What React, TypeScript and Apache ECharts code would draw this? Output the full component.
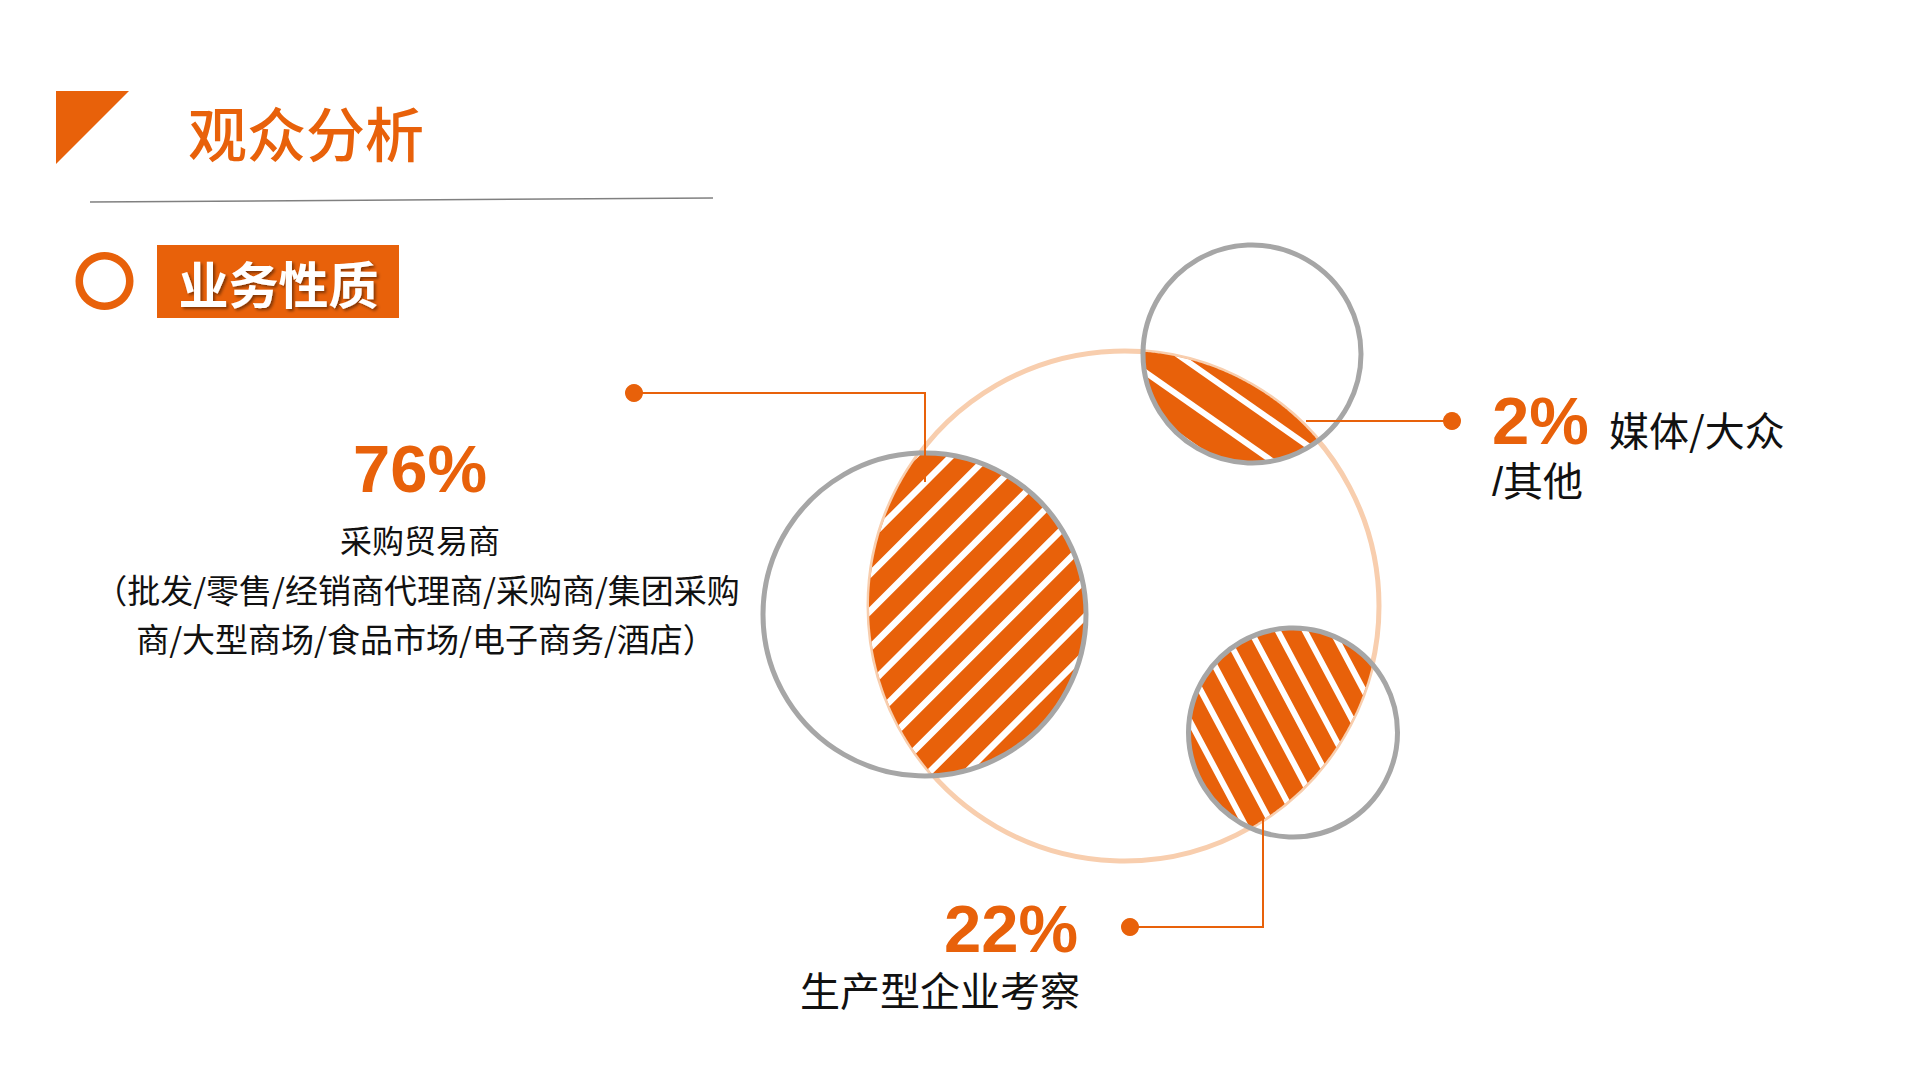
import React, { useEffect, useRef } from 'react';
import * as echarts from 'echarts';

// ---------------- data ----------------
const categories: string[] = ['采购贸易商', '生产型企业考察', '媒体/大众/其他'];
const values: number[] = [76, 22, 2];
const detailLines: string[] = ['（批发/零售/经销商代理商/采购商/集团采购', '商/大型商场/食品市场/电子商务/酒店）'];
const pageTitle = '观众分析';
const sectionTitle = '业务性质';

// ---------------- styles / layout ----------------
const ORANGE = '#E8610A';
const PEACH = '#F8CEAE';
const GRAY = '#A6A6A6';
const TEXT = '#111111';
const FONT_CJK = '"Noto Sans CJK SC", "Microsoft YaHei", sans-serif';
const FONT_CJK_TIGHT = '"Liberation Sans", "Noto Sans CJK SC", sans-serif';
const FONT_NUM = '"Liberation Sans", "Open Sans", sans-serif';

const BIG = { x: 1124, y: 606, r: 255 };

type Bubble = {
  x: number; y: number; r: number;
  angle: number; period: number; white: number; phase: number;
  leader: number[][]; dot: number[];
};

const bubbles: Bubble[] = [
  { x: 924.5, y: 614.5, r: 161.5, angle: -45, period: 26, white: 6.5, phase: 4,
    leader: [[634, 393], [925, 393], [925, 482]], dot: [634, 393] },
  { x: 1293, y: 732.5, r: 104.5, angle: 62, period: 24, white: 6, phase: 5,
    leader: [[1130, 927], [1263, 927], [1263, 818]], dot: [1130, 927] },
  { x: 1252, y: 354, r: 109, angle: 35, period: 33, white: 6, phase: 8,
    leader: [[1452, 421], [1306, 421]], dot: [1452, 421] },
];

// ---------------- geometry helpers ----------------
type Circle = { x: number; y: number; r: number };

function lensPolygon(c1: Circle, c2: Circle, steps = 140): number[][] {
  const dx = c2.x - c1.x, dy = c2.y - c1.y;
  const d = Math.hypot(dx, dy);
  const a = (c1.r * c1.r - c2.r * c2.r + d * d) / (2 * d);
  const phi = Math.atan2(dy, dx);
  const al1 = Math.acos(Math.max(-1, Math.min(1, a / c1.r)));
  const al2 = Math.acos(Math.max(-1, Math.min(1, (d - a) / c2.r)));
  const pts: number[][] = [];
  for (let i = 0; i <= steps; i++) {
    const t = phi - al1 + (2 * al1 * i) / steps;
    pts.push([c1.x + c1.r * Math.cos(t), c1.y + c1.r * Math.sin(t)]);
  }
  for (let i = 1; i < steps; i++) {
    const t = phi + Math.PI - al2 + (2 * al2 * i) / steps;
    pts.push([c2.x + c2.r * Math.cos(t), c2.y + c2.r * Math.sin(t)]);
  }
  return pts;
}

function clipHalf(poly: number[][], nx: number, ny: number, c: number, sign: number): number[][] {
  const out: number[][] = [];
  const n = poly.length;
  for (let i = 0; i < n; i++) {
    const a = poly[i], b = poly[(i + 1) % n];
    const da = (a[0] * nx + a[1] * ny - c) * sign;
    const db = (b[0] * nx + b[1] * ny - c) * sign;
    if (da >= 0) out.push(a);
    if ((da >= 0) !== (db >= 0)) {
      const t = da / (da - db);
      out.push([a[0] + t * (b[0] - a[0]), a[1] + t * (b[1] - a[1])]);
    }
  }
  return out;
}

function whiteBands(poly: number[][], b: Bubble): number[][][] {
  const th = (b.angle * Math.PI) / 180;
  const nx = -Math.sin(th), ny = Math.cos(th);
  let pmin = Infinity, pmax = -Infinity;
  for (const p of poly) {
    const v = p[0] * nx + p[1] * ny;
    pmin = Math.min(pmin, v); pmax = Math.max(pmax, v);
  }
  const bands: number[][][] = [];
  let s = Math.floor(pmin / b.period) * b.period + b.phase - b.period;
  for (; s < pmax; s += b.period) {
    let q = clipHalf(poly, nx, ny, s, 1);
    if (q.length < 3) continue;
    q = clipHalf(q, nx, ny, s + b.white, -1);
    if (q.length >= 3) bands.push(q);
  }
  return bands;
}

function txt(x: number, y: number, text: string, size: number, fill: string, family: string,
  weight: string | number, align: string) {
  return {
    type: 'text', x, y, silent: true,
    style: { text, fill, fontSize: size, fontFamily: family, fontWeight: weight, align, verticalAlign: 'middle' },
  };
}

function labelsFor(i: number, v: number): any[] {
  const pct = `${v}%`;
  if (i === 0) {
    return [
      txt(420, 468, pct, 67, ORANGE, FONT_NUM, 'bold', 'center'),
      txt(420, 539, categories[0], 32, TEXT, FONT_CJK, 'normal', 'center'),
      txt(417, 589, detailLines[0], 33, TEXT, FONT_CJK, 'normal', 'center'),
      txt(426, 638, detailLines[1], 33, TEXT, FONT_CJK, 'normal', 'center'),
    ];
  }
  if (i === 1) {
    return [
      txt(1078, 928, pct, 67, ORANGE, FONT_NUM, 'bold', 'right'),
      txt(1080, 992, categories[1], 40, TEXT, FONT_CJK_TIGHT, 'normal', 'right'),
    ];
  }
  const name = categories[2];
  const cut = name.lastIndexOf('/');
  return [
    txt(1492, 420, pct, 67, ORANGE, FONT_NUM, 'bold', 'left'),
    txt(1609, 429, name.slice(0, cut), 40, TEXT, FONT_CJK, 'normal', 'left'),
    txt(1492, 482, name.slice(cut), 40, TEXT, FONT_CJK_TIGHT, 'normal', 'left'),
  ];
}

export default function App() {
  const ref = useRef<HTMLDivElement>(null);

  useEffect(() => {
    if (!ref.current) return;
    const chart = echarts.init(ref.current, undefined, { renderer: 'svg' });

    const option: any = {
      animation: false,
      backgroundColor: '#ffffff',
      graphic: {
        elements: [
          { type: 'polygon', silent: true, shape: { points: [[56, 91], [129, 91], [56, 164]] }, style: { fill: ORANGE } },
          {
            type: 'text', x: 306, y: 131, silent: true,
            style: { text: pageTitle, fill: ORANGE, fontSize: 59, fontFamily: FONT_CJK, fontWeight: 500, align: 'center', verticalAlign: 'middle' },
          },
          { type: 'line', silent: true, shape: { x1: 90, y1: 202, x2: 713, y2: 198 }, style: { stroke: '#808080', lineWidth: 1.5 } },
          { type: 'ring', silent: true, shape: { cx: 104.5, cy: 281, r: 29, r0: 21.5 }, style: { fill: ORANGE } },
          { type: 'rect', silent: true, shape: { x: 157, y: 245, width: 242, height: 73 }, style: { fill: ORANGE } },
          {
            type: 'text', x: 278.5, y: 282, silent: true,
            style: {
              text: sectionTitle, fill: '#ffffff', fontSize: 50, fontFamily: FONT_CJK, fontWeight: 'bold',
              align: 'center', verticalAlign: 'middle',
              textShadowColor: 'rgba(0,0,0,0.45)', textShadowBlur: 3, textShadowOffsetX: 2, textShadowOffsetY: 2,
            },
          },
        ],
      },
      series: [
        {
          type: 'custom',
          coordinateSystem: 'none',
          silent: true,
          z: 2,
          data: values.map((v, i) => ({ name: categories[i], value: v })),
          renderItem: (params: any, api: any) => {
            const i = params.dataIndex;
            const b = bubbles[i];
            const v = api.value(0);
            const children: any[] = [];
            if (i === 0) {
              children.push({ type: 'circle', shape: { cx: BIG.x, cy: BIG.y, r: BIG.r }, style: { fill: 'none', stroke: PEACH, lineWidth: 5 } });
            }
            const poly = lensPolygon(BIG, b);
            children.push({ type: 'polygon', shape: { points: poly }, style: { fill: ORANGE } });
            for (const band of whiteBands(poly, b)) {
              children.push({ type: 'polygon', shape: { points: band }, style: { fill: '#ffffff' } });
            }
            children.push({ type: 'circle', shape: { cx: b.x, cy: b.y, r: b.r }, style: { fill: 'none', stroke: GRAY, lineWidth: 5 } });
            children.push({ type: 'polyline', shape: { points: b.leader }, style: { fill: 'none', stroke: ORANGE, lineWidth: 2 } });
            children.push({ type: 'circle', shape: { cx: b.dot[0], cy: b.dot[1], r: 9 }, style: { fill: ORANGE } });
            for (const t of labelsFor(i, v)) children.push(t);
            return { type: 'group', children };
          },
        },
      ],
    };

    chart.setOption(option);
    return () => chart.dispose();
  }, []);

  return (
    <div
      ref={ref}
      style={{ position: 'fixed', left: 0, top: 0, width: 1920, height: 1080, background: '#ffffff' }}
    />
  );
}
